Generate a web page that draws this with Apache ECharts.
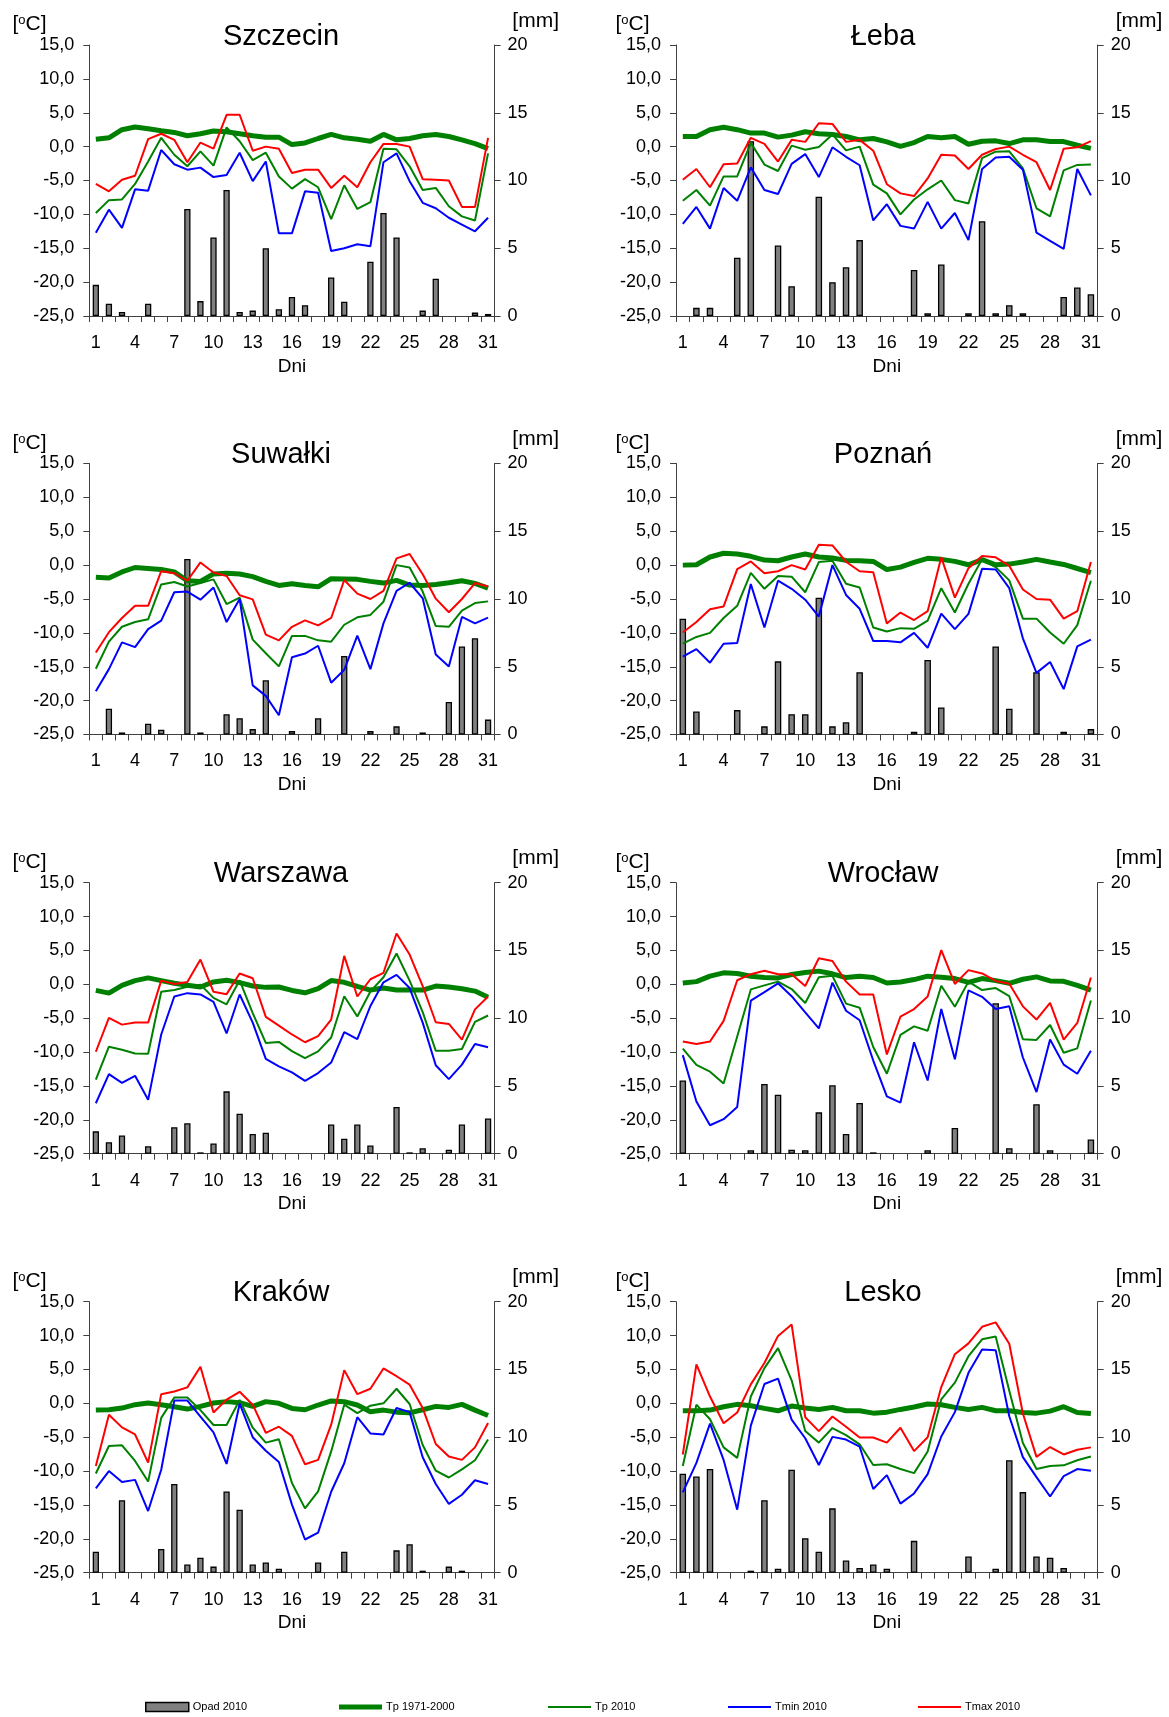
<!DOCTYPE html>
<html>
<head>
<meta charset="utf-8">
<title>Temperatura i opad 2010</title>
<script src="https://cdn.jsdelivr.net/npm/echarts@6/dist/echarts.min.js"></script>
<style>
html,body{margin:0;padding:0;background:#fff;}
#main{width:1169px;height:1717px;}
</style>
</head>
<body>
<div id="main"></div>
<script>
var dni = ['1','2','3','4','5','6','7','8','9','10','11','12','13','14','15','16','17','18','19','20','21','22','23','24','25','26','27','28','29','30','31'];
var seriesNames = ['Opad 2010', 'Tp 1971-2000', 'Tp 2010', 'Tmin 2010', 'Tmax 2010'];

// Szczecin
var szczecinOpad = [2.3,0.9,0.3,null,0.9,null,null,7.9,1.1,5.8,9.3,0.3,0.4,5.0,0.5,1.4,0.8,null,2.85,1.05,null,4.0,7.6,5.8,null,0.4,2.75,null,null,0.25,0.15];
var szczecinTpNorm = [1.1,1.3,2.5,2.9,2.65,2.35,2.1,1.6,1.9,2.3,2.2,1.9,1.6,1.4,1.4,0.3,0.55,1.2,1.8,1.3,1.1,0.8,1.8,1.0,1.2,1.6,1.8,1.5,1.0,0.45,-0.3];
var szczecinTp = [-9.8,-7.9,-7.8,-5.5,-2.2,1.3,-1.2,-2.9,-0.7,-2.8,2.85,0.8,-2.0,-0.9,-4.4,-6.2,-4.8,-6.0,-10.7,-5.7,-9.2,-8.2,-0.3,-0.4,-2.9,-6.4,-6.1,-8.8,-10.3,-10.9,-1.0];
var szczecinTmin = [-12.7,-9.3,-12.0,-6.3,-6.5,-0.5,-2.6,-3.4,-3.1,-4.5,-4.2,-0.9,-5.1,-2.2,-12.8,-12.8,-6.6,-6.8,-15.4,-15.0,-14.4,-14.7,-2.3,-1.0,-5.1,-8.3,-9.1,-10.5,-11.5,-12.5,-10.5];
var szczecinTmax = [-5.5,-6.6,-4.9,-4.3,1.1,1.9,1.0,-2.3,0.6,-0.3,4.7,4.7,-0.6,0.0,-0.3,-3.9,-3.4,-3.4,-6.1,-4.3,-6.0,-2.3,0.4,0.4,0.0,-4.8,-4.9,-5.0,-8.9,-8.9,1.3];

// Łeba
var lebaOpad = [null,0.6,0.6,null,4.3,12.9,null,5.2,2.2,null,8.8,2.5,3.6,5.6,null,null,null,3.4,0.2,3.8,null,0.2,7.0,0.2,0.8,0.2,null,null,1.4,2.1,1.6];
var lebaTpNorm = [1.5,1.5,2.5,2.85,2.5,2.0,2.0,1.4,1.7,2.2,1.9,1.8,1.5,1.0,1.2,0.7,0.05,0.6,1.5,1.3,1.5,0.35,0.8,0.85,0.45,1.0,1.0,0.75,0.75,0.2,-0.25];
var lebaTp = [-8.0,-6.4,-8.7,-4.4,-4.4,0.55,-2.65,-3.6,0.15,-0.45,-0.05,1.8,-0.55,0.0,-5.6,-6.9,-10.0,-7.8,-6.3,-5.0,-7.9,-8.4,-1.7,-0.75,-0.7,-3.2,-9.1,-10.3,-3.5,-2.7,-2.65];
var lebaTmin = [-11.4,-8.9,-12.1,-6.1,-8.0,-3.05,-6.4,-7.0,-2.55,-1.1,-4.5,-0.1,-1.5,-2.75,-10.9,-8.5,-11.7,-12.1,-8.15,-12.1,-9.8,-13.8,-3.3,-1.6,-1.5,-3.4,-12.7,-13.9,-15.1,-3.3,-7.2];
var lebaTmax = [-4.9,-3.3,-6.0,-2.6,-2.5,1.3,0.4,-2.2,1.0,0.7,3.45,3.35,0.7,1.0,-0.6,-5.55,-6.9,-7.3,-4.7,-1.2,-1.3,-3.3,-1.2,-0.35,0.0,-1.2,-2.3,-6.4,-0.3,-0.1,0.8];

// Suwałki
var suwalkiOpad = [null,1.9,0.15,null,0.8,0.35,null,12.95,0.15,null,1.5,1.2,0.4,4.0,null,0.25,null,1.2,null,5.8,null,0.25,null,0.6,null,0.15,null,2.4,6.5,7.1,1.1];
var suwalkiTpNorm = [-1.8,-1.9,-1.0,-0.35,-0.5,-0.65,-1.0,-2.3,-2.4,-1.3,-1.2,-1.3,-1.7,-2.4,-3.0,-2.75,-3.0,-3.2,-2.0,-2.05,-2.1,-2.4,-2.65,-2.25,-2.95,-3.0,-2.85,-2.6,-2.3,-2.7,-3.4];
var suwalkiTp = [-15.3,-11.3,-9.1,-8.4,-8.0,-2.85,-2.5,-3.15,-2.65,-2.1,-5.75,-4.8,-11.0,-13.0,-14.95,-10.45,-10.45,-11.1,-11.3,-8.8,-7.7,-7.35,-5.4,0.0,-0.35,-3.9,-9.0,-9.1,-6.7,-5.6,-5.35];
var suwalkiTmin = [-18.6,-15.35,-11.4,-12.1,-9.45,-8.2,-4.0,-3.9,-5.1,-3.3,-8.4,-5.0,-17.75,-19.3,-22.15,-13.6,-13.05,-11.9,-17.35,-15.45,-10.4,-15.35,-8.6,-3.8,-2.6,-4.9,-13.2,-14.95,-7.65,-8.6,-7.75];
var suwalkiTmax = [-12.9,-9.9,-7.8,-6.0,-6.0,-0.9,-1.2,-2.3,0.4,-1.1,-1.6,-4.45,-5.05,-10.25,-11.1,-9.1,-8.15,-8.9,-7.8,-2.2,-4.2,-5.0,-3.8,1.0,1.65,-1.35,-4.95,-6.95,-5.0,-2.65,-3.15];

// Poznań
var poznanOpad = [8.55,1.7,null,null,1.8,null,0.6,5.4,1.5,1.5,10.1,0.6,0.9,4.6,null,null,null,0.2,5.5,2.0,null,null,null,6.5,1.9,null,4.6,null,0.2,null,0.4];
var poznanTpNorm = [0.0,0.05,1.2,1.75,1.65,1.3,0.75,0.65,1.2,1.65,1.2,1.05,0.7,0.65,0.55,-0.65,-0.3,0.4,1.0,0.85,0.55,0.05,0.8,0.05,0.15,0.45,0.85,0.45,0.1,-0.5,-1.1];
var poznanTp = [-11.6,-10.6,-10.0,-7.8,-6.0,-1.15,-3.5,-1.6,-1.7,-4.0,0.45,0.65,-2.75,-3.3,-9.2,-9.8,-9.3,-9.4,-8.2,-3.4,-7.0,-2.75,0.85,-0.3,-2.25,-7.9,-7.9,-9.95,-11.6,-8.85,-2.3];
var poznanTmin = [-13.5,-12.4,-14.4,-11.6,-11.5,-2.8,-9.2,-2.3,-3.5,-5.1,-7.6,0.0,-4.4,-6.45,-11.2,-11.2,-11.4,-10.0,-12.2,-7.15,-9.45,-7.2,-0.55,-0.65,-3.4,-10.8,-15.9,-14.3,-18.3,-12.0,-11.0];
var poznanTmax = [-9.95,-8.4,-6.5,-6.1,-0.6,0.55,-1.2,-0.9,0.0,-0.65,3.0,2.9,0.5,-0.9,-1.05,-8.6,-7.0,-8.1,-6.8,1.15,-4.8,-0.45,1.35,1.15,-0.1,-3.6,-5.0,-5.1,-7.9,-6.8,0.45];

// Warszawa
var warszawaOpad = [1.65,0.85,1.35,null,0.55,null,1.95,2.25,0.1,0.75,4.6,2.95,1.45,1.55,null,null,null,null,2.15,1.1,2.15,0.6,null,3.45,0.1,0.4,null,0.3,2.15,null,2.6];
var warszawaTpNorm = [-0.9,-1.3,-0.15,0.55,0.95,0.55,0.15,-0.15,-0.4,0.35,0.6,0.25,-0.25,-0.45,-0.4,-0.9,-1.25,-0.65,0.55,0.3,-0.3,-0.85,-0.55,-0.85,-0.85,-0.85,-0.25,-0.4,-0.65,-1.0,-1.9];
var warszawaTp = [-14.05,-9.2,-9.65,-10.2,-10.25,-1.1,-0.85,-0.35,-0.05,-2.0,-2.95,0.6,-4.25,-8.65,-8.5,-9.85,-10.9,-9.9,-7.85,-1.75,-4.75,-1.05,1.05,4.55,0.55,-4.1,-9.8,-9.8,-9.55,-5.55,-4.6];
var warszawaTmin = [-17.55,-13.25,-14.55,-13.5,-17.05,-7.4,-1.8,-1.3,-1.5,-2.6,-7.25,-1.5,-5.65,-11.0,-12.1,-13.0,-14.25,-13.1,-11.55,-7.05,-8.1,-3.2,0.3,1.4,-0.55,-5.65,-11.95,-14.0,-11.85,-8.8,-9.3];
var warszawaTmax = [-9.95,-4.95,-5.95,-5.65,-5.65,0.55,0.05,0.35,3.65,-1.1,-1.45,1.6,0.9,-4.8,-6.1,-7.4,-8.55,-7.65,-5.2,4.2,-1.8,0.75,1.7,7.5,4.4,-0.25,-5.6,-5.85,-8.15,-3.7,-1.8];

// Wrocław
var wroclawOpad = [5.4,null,null,null,null,0.25,5.15,4.35,0.3,0.25,3.05,5.05,1.45,3.75,0.1,null,null,null,0.25,null,1.9,null,null,11.1,0.4,null,3.65,0.25,null,null,1.05];
var wroclawTpNorm = [0.2,0.4,1.2,1.7,1.6,1.2,1.0,0.95,1.45,1.75,1.95,1.55,1.0,1.2,1.0,0.2,0.35,0.7,1.2,1.05,0.85,0.3,0.85,0.55,0.15,0.75,1.1,0.5,0.45,-0.15,-0.85];
var wroclawTp = [-9.5,-11.9,-12.9,-14.65,-7.7,-0.75,-0.15,0.4,-0.7,-2.75,1.05,1.25,-2.85,-3.45,-9.25,-13.2,-7.45,-6.2,-6.85,-0.2,-3.3,0.4,-0.85,-0.55,-1.75,-8.1,-8.2,-6.0,-10.1,-9.45,-2.4];
var wroclawTmin = [-10.45,-17.3,-20.8,-19.9,-18.1,-2.4,-1.15,0.15,-1.75,-4.15,-6.5,0.25,-3.9,-5.3,-11.25,-16.55,-17.45,-8.55,-14.2,-3.65,-11.05,-0.9,-1.85,-3.65,-3.25,-10.8,-15.9,-8.15,-11.85,-13.2,-9.8];
var wroclawTmax = [-8.45,-8.8,-8.45,-5.4,0.6,1.5,2.0,1.5,1.5,-0.25,3.85,3.45,0.4,-1.5,-1.5,-10.35,-4.75,-3.65,-1.8,5.05,0.05,2.1,1.6,0.5,0.1,-3.25,-5.2,-2.75,-8.15,-5.7,1.0];

// Kraków
var krakowOpad = [1.55,null,5.35,null,null,1.75,6.55,0.6,1.1,0.45,6.0,4.65,0.6,0.75,0.3,null,null,0.75,null,1.55,null,null,null,1.65,2.1,0.15,null,0.45,0.15,null,null];
var krakowTpNorm = [-1.0,-0.95,-0.7,-0.2,0.05,-0.2,-0.5,-0.85,-0.45,0.05,0.25,0.1,-0.45,0.25,0.0,-0.75,-0.95,-0.25,0.35,0.25,-0.25,-1.25,-1.0,-1.3,-1.4,-0.95,-0.45,-0.6,-0.15,-1.0,-1.8];
var krakowTp = [-10.35,-6.3,-6.2,-8.5,-11.55,-2.15,0.85,0.85,-1.0,-3.2,-3.2,0.5,-3.6,-5.8,-5.3,-11.75,-15.5,-13.0,-7.1,-0.2,-1.45,-0.35,0.0,2.15,-0.1,-6.15,-9.95,-10.95,-9.75,-8.4,-5.35];
var krakowTmin = [-12.55,-10.0,-11.6,-11.3,-15.9,-9.8,0.4,0.4,-1.95,-4.3,-8.95,-0.05,-5.0,-7.0,-8.65,-14.95,-20.1,-19.1,-13.05,-8.85,-2.05,-4.45,-4.6,-0.7,-1.3,-7.95,-11.9,-14.85,-13.5,-11.35,-11.9];
var krakowTmax = [-9.25,-1.7,-3.55,-4.6,-8.75,1.35,1.75,2.35,5.4,-1.35,0.55,1.7,-0.2,-4.35,-3.45,-4.8,-9.0,-8.35,-3.15,4.9,1.35,2.15,5.15,4.0,2.75,-0.7,-6.0,-7.85,-8.35,-6.5,-2.9];

// Lesko
var leskoOpad = [7.3,7.1,7.65,null,null,0.15,5.35,0.3,7.6,2.55,1.55,4.75,0.9,0.35,0.6,0.3,null,2.35,null,null,null,1.2,null,0.3,8.3,5.95,1.2,1.1,0.35,null,null];
var leskoTpNorm = [-1.1,-1.1,-1.0,-0.5,-0.15,-0.35,-0.75,-1.1,-0.4,-0.7,-0.9,-0.6,-1.1,-1.1,-1.45,-1.3,-0.9,-0.55,-0.1,-0.2,-0.6,-0.9,-0.6,-1.1,-1.1,-1.35,-1.45,-1.15,-0.5,-1.35,-1.5];
var leskoTp = [-9.25,-0.2,-2.35,-6.5,-8.05,1.0,5.2,8.15,3.4,-4.1,-5.8,-3.65,-4.7,-6.05,-9.1,-9.0,-9.7,-10.3,-7.1,0.6,3.05,6.95,9.45,9.85,1.85,-5.85,-9.7,-9.25,-9.15,-8.4,-7.85];
var leskoTmin = [-13.15,-8.8,-3.0,-8.35,-15.7,-3.3,2.85,3.65,-2.4,-5.15,-9.1,-4.95,-5.35,-6.4,-12.65,-10.6,-14.8,-13.3,-10.45,-4.9,-1.3,4.5,7.95,7.85,-1.9,-7.95,-10.9,-13.75,-10.75,-9.7,-9.95];
var leskoTmax = [-7.55,5.75,1.0,-2.95,-1.35,2.8,5.95,9.95,11.65,-2.05,-4.1,-1.95,-3.45,-5.05,-5.05,-5.8,-3.6,-7.05,-5.0,2.4,7.25,8.85,11.3,11.95,8.8,-1.5,-7.9,-6.45,-7.55,-6.85,-6.5];

var stations = [
  {name: 'Szczecin', opad: szczecinOpad, tpNorm: szczecinTpNorm, tp: szczecinTp, tmin: szczecinTmin, tmax: szczecinTmax},
  {name: 'Łeba', opad: lebaOpad, tpNorm: lebaTpNorm, tp: lebaTp, tmin: lebaTmin, tmax: lebaTmax},
  {name: 'Suwałki', opad: suwalkiOpad, tpNorm: suwalkiTpNorm, tp: suwalkiTp, tmin: suwalkiTmin, tmax: suwalkiTmax},
  {name: 'Poznań', opad: poznanOpad, tpNorm: poznanTpNorm, tp: poznanTp, tmin: poznanTmin, tmax: poznanTmax},
  {name: 'Warszawa', opad: warszawaOpad, tpNorm: warszawaTpNorm, tp: warszawaTp, tmin: warszawaTmin, tmax: warszawaTmax},
  {name: 'Wrocław', opad: wroclawOpad, tpNorm: wroclawTpNorm, tp: wroclawTp, tmin: wroclawTmin, tmax: wroclawTmax},
  {name: 'Kraków', opad: krakowOpad, tpNorm: krakowTpNorm, tp: krakowTp, tmin: krakowTmin, tmax: krakowTmax},
  {name: 'Lesko', opad: leskoOpad, tpNorm: leskoTpNorm, tp: leskoTp, tmin: leskoTmin, tmax: leskoTmax}
];

// layout of the 2x4 panels (px)
var colLeft = [89.3, 676];
var colWidth = [405.3, 421.7];
var rowTop = [45, 463.5, 882.7, 1301.7];
var plotHeight = 271;
var titleX = [281, 883];
var degX = [29.5, 632.5];
var mmX = [535.7, 1139];
var axisColor = '#404040';
var font = 'Liberation Sans, Arial, sans-serif';

var grids = [], xAxes = [], yAxes = [], series = [], titles = [];

function lineSeries(name, data, color, width, i) {
  return {
    name: name, type: 'line', xAxisIndex: i, yAxisIndex: 2 * i,
    data: data, symbol: 'none', showSymbol: false, smooth: false,
    lineStyle: {color: color, width: width}, itemStyle: {color: color},
    emphasis: {disabled: true}
  };
}

stations.forEach(function (st, i) {
  var col = i % 2, row = Math.floor(i / 2);
  var top = rowTop[row];
  grids.push({left: colLeft[col], top: top, width: colWidth[col], height: plotHeight, outerBoundsMode: 'none'});

  xAxes.push({
    gridIndex: i, type: 'category', data: dni, boundaryGap: true,
    axisLine: {onZero: false, lineStyle: {color: axisColor, width: 1}},
    axisTick: {show: true, interval: 0, length: 6, lineStyle: {color: axisColor}},
    axisLabel: {interval: 2, fontSize: 18, color: '#000', margin: 18, fontFamily: font},
    splitLine: {show: false},
    name: 'Dni', nameLocation: 'middle', nameGap: 41,
    nameTextStyle: {fontSize: 19, color: '#000', fontFamily: font}
  });

  yAxes.push({
    gridIndex: i, type: 'value', position: 'left', min: -25, max: 15, interval: 5,
    axisLine: {show: true, onZero: false, lineStyle: {color: axisColor, width: 1}},
    axisTick: {show: true, length: 6, lineStyle: {color: axisColor}},
    axisLabel: {fontSize: 18, color: '#000', margin: 15, fontFamily: font, showMinLabel: true, showMaxLabel: true,
      formatter: function (v) { return v.toFixed(1).replace('.', ','); }},
    splitLine: {show: false}
  });
  yAxes.push({
    gridIndex: i, type: 'value', position: 'right', min: 0, max: 20, interval: 5,
    axisLine: {show: true, onZero: false, lineStyle: {color: axisColor, width: 1}},
    axisTick: {show: true, length: 6, lineStyle: {color: axisColor}},
    axisLabel: {fontSize: 18, color: '#000', margin: 13, fontFamily: font, showMinLabel: true, showMaxLabel: true},
    splitLine: {show: false}
  });

  series.push({
    name: seriesNames[0], type: 'bar', xAxisIndex: i, yAxisIndex: 2 * i + 1,
    data: st.opad, barWidth: '48%',
    itemStyle: {color: '#808080', borderColor: '#000', borderWidth: 1.3},
    emphasis: {disabled: true}
  });
  series.push(lineSeries(seriesNames[1], st.tpNorm, '#008000', 5, i));
  series.push(lineSeries(seriesNames[2], st.tp, '#008000', 2, i));
  series.push(lineSeries(seriesNames[3], st.tmin, '#0000ff', 2, i));
  series.push(lineSeries(seriesNames[4], st.tmax, '#ff0000', 2, i));

  titles.push({
    text: st.name, left: titleX[col], top: top - 12 - 11, textAlign: 'center', padding: 0,
    textStyle: {fontSize: 29, fontWeight: 'normal', color: '#000', fontFamily: font}
  });
  titles.push({
    text: '[{s|o}C]', left: degX[col], top: top - 20 - 11, textAlign: 'center', padding: 0,
    textStyle: {fontSize: 21, fontWeight: 'normal', color: '#000', fontFamily: font,
      rich: {s: {fontSize: 13, verticalAlign: 'top', color: '#000', fontFamily: font}}}
  });
  titles.push({
    text: '[mm]', left: mmX[col], top: top - 24 - 10.5, textAlign: 'center', padding: 0,
    textStyle: {fontSize: 21, fontWeight: 'normal', color: '#000', fontFamily: font}
  });
});

// legend at the bottom, one component per item to pin the positions
var legendX = [145, 339, 548, 728, 918];
var legendIconH = [9, 5, 2, 2, 2];
var legendColor = ['#808080', '#008000', '#008000', '#0000ff', '#ff0000'];
var legends = seriesNames.map(function (n, k) {
  var lg = {
    data: [n], left: legendX[k], top: 1701.5, padding: 0, itemGap: 0,
    icon: 'rect', itemWidth: 43, itemHeight: legendIconH[k],
    textStyle: {fontSize: 11, color: '#000', fontFamily: font, padding: [0, 0, 0, -1]},
    itemStyle: {color: legendColor[k], borderWidth: 0}
  };
  if (k === 0) {
    lg.itemStyle = {color: '#808080', borderColor: '#000', borderWidth: 1.5};
  }
  return lg;
});

var myChart = echarts.init(document.getElementById('main'));
var option = {
  animation: false,
  backgroundColor: '#fff',
  textStyle: {fontFamily: font},
  title: titles,
  legend: legends,
  grid: grids,
  xAxis: xAxes,
  yAxis: yAxes,
  series: series
};
myChart.setOption(option);
window.addEventListener('resize', function () {
  myChart.resize();
});
</script>
</body>
</html>
